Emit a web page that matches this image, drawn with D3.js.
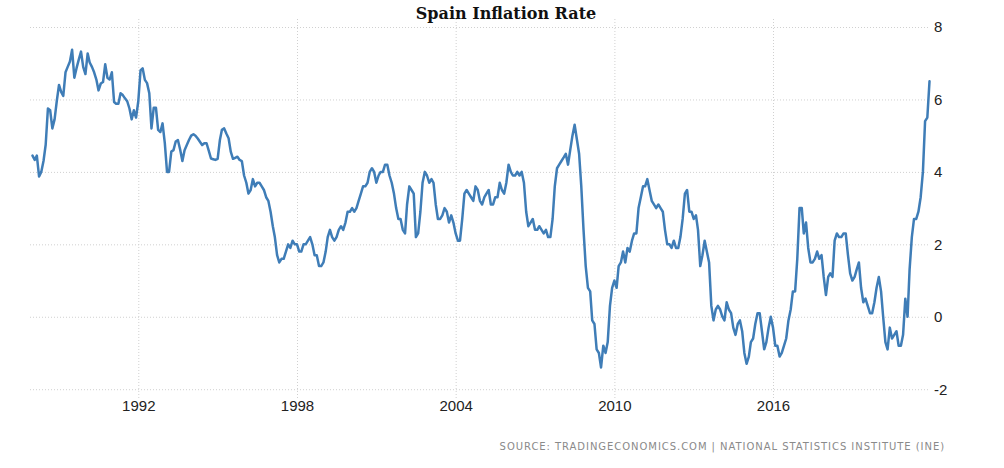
<!DOCTYPE html>
<html><head><meta charset="utf-8">
<script src="https://cdn.jsdelivr.net/npm/d3@7/dist/d3.min.js"></script>
<style>
body{margin:0;background:#fff;}
svg{display:block;}
</style>
</head><body>
<svg id="chart" width="1004" height="468"></svg>
<script>
// ---- data (annual % change, monthly, Jan..Dec) ----
const y1988 = [4.45, 4.33, 4.45, 3.87, 4.0, 4.3, 4.75, 5.75, 5.7, 5.2, 5.45, 5.95];
const y1989 = [6.4, 6.2, 6.1, 6.75, 6.9, 7.05, 7.37, 6.6, 6.87, 7.1, 7.32, 6.9];
const y1990 = [6.7, 7.27, 7.02, 6.9, 6.75, 6.55, 6.25, 6.44, 6.48, 6.97, 6.6, 6.55];
const y1991 = [6.75, 5.93, 5.88, 5.88, 6.17, 6.12, 6.03, 5.95, 5.75, 5.45, 5.7, 5.5];
const y1992 = [5.95, 6.8, 6.86, 6.54, 6.45, 6.17, 5.2, 5.77, 5.77, 5.16, 5.1, 5.34];
const y1993 = [4.8, 4.0, 4.0, 4.56, 4.6, 4.84, 4.88, 4.62, 4.3, 4.6, 4.74, 4.88];
const y1994 = [5.0, 5.04, 5.0, 4.92, 4.83, 4.74, 4.79, 4.79, 4.58, 4.37, 4.35, 4.33];
const y1995 = [4.36, 4.88, 5.16, 5.2, 5.06, 4.93, 4.56, 4.36, 4.39, 4.42, 4.33, 4.3];
const y1996 = [3.9, 3.7, 3.4, 3.5, 3.8, 3.6, 3.7, 3.7, 3.6, 3.5, 3.3, 3.2];
const y1997 = [2.9, 2.5, 2.2, 1.7, 1.5, 1.6, 1.6, 1.8, 2.0, 1.9, 2.1, 2.0];
const y1998 = [2.0, 1.8, 1.8, 2.0, 2.0, 2.1, 2.2, 2.0, 1.7, 1.7, 1.4, 1.4];
const y1999 = [1.5, 1.8, 2.2, 2.4, 2.2, 2.1, 2.2, 2.4, 2.5, 2.4, 2.6, 2.9];
const y2000 = [2.9, 3.0, 2.9, 3.0, 3.2, 3.4, 3.6, 3.6, 3.7, 4.0, 4.1, 4.0];
const y2001 = [3.7, 3.9, 4.0, 4.0, 4.2, 4.2, 3.9, 3.7, 3.4, 3.0, 2.7, 2.7];
const y2002 = [2.4, 2.3, 3.1, 3.6, 3.5, 3.4, 2.2, 2.3, 2.9, 3.7, 4.0, 3.9];
const y2003 = [3.7, 3.8, 3.7, 3.1, 2.7, 2.7, 2.8, 3.0, 2.9, 2.6, 2.8, 2.6];
const y2004 = [2.3, 2.1, 2.1, 2.7, 3.4, 3.5, 3.4, 3.3, 3.2, 3.6, 3.5, 3.2];
const y2005 = [3.1, 3.3, 3.4, 3.5, 3.1, 3.1, 3.3, 3.3, 3.7, 3.5, 3.4, 3.7];
const y2006 = [4.2, 4.0, 3.9, 3.9, 4.0, 3.9, 4.0, 3.7, 2.9, 2.5, 2.6, 2.7];
const y2007 = [2.4, 2.4, 2.5, 2.4, 2.3, 2.4, 2.2, 2.2, 2.7, 3.6, 4.1, 4.2];
const y2008 = [4.3, 4.4, 4.5, 4.2, 4.6, 5.0, 5.3, 4.9, 4.5, 3.6, 2.4, 1.4];
const y2009 = [0.8, 0.7, -0.1, -0.2, -0.9, -1.0, -1.4, -0.8, -1.0, -0.7, 0.3, 0.8];
const y2010 = [1.0, 0.8, 1.4, 1.5, 1.8, 1.5, 1.9, 1.8, 2.1, 2.3, 2.3, 3.0];
const y2011 = [3.3, 3.6, 3.6, 3.8, 3.5, 3.2, 3.1, 3.0, 3.1, 3.0, 2.9, 2.4];
const y2012 = [2.0, 2.0, 1.9, 2.1, 1.9, 1.9, 2.2, 2.7, 3.4, 3.5, 2.9, 2.9];
const y2013 = [2.7, 2.8, 2.4, 1.4, 1.7, 2.1, 1.8, 1.5, 0.3, -0.1, 0.2, 0.3];
const y2014 = [0.2, 0.0, -0.1, 0.4, 0.2, 0.1, -0.3, -0.5, -0.2, -0.1, -0.4, -1.0];
const y2015 = [-1.3, -1.1, -0.7, -0.6, -0.2, 0.1, 0.1, -0.4, -0.9, -0.7, -0.3, 0.0];
const y2016 = [-0.3, -0.8, -0.8, -1.1, -1.0, -0.8, -0.6, -0.1, 0.2, 0.7, 0.7, 1.6];
const y2017 = [3.0, 3.0, 2.3, 2.6, 1.9, 1.5, 1.5, 1.6, 1.8, 1.6, 1.7, 1.1];
const y2018 = [0.6, 1.1, 1.2, 1.1, 2.1, 2.3, 2.2, 2.2, 2.3, 2.3, 1.7, 1.2];
const y2019 = [1.0, 1.1, 1.3, 1.5, 0.8, 0.4, 0.5, 0.3, 0.1, 0.1, 0.4, 0.8];
const y2020 = [1.1, 0.7, 0.0, -0.7, -0.9, -0.3, -0.6, -0.5, -0.4, -0.8, -0.8, -0.5];
const y2021 = [0.5, 0.0, 1.3, 2.2, 2.7, 2.7, 2.9, 3.3, 4.0, 5.4, 5.5, 6.5];

const seriesYears = [1988,1989,1990,1991,1992,1993,1994,1995,1996,1997,1998,1999,2000,2001,2002,2003,2004,2005,2006,2007,2008,2009,2010,2011,2012,2013,2014,2015,2016,2017,2018,2019,2020,2021];
const seriesByYear = [y1988,y1989,y1990,y1991,y1992,y1993,y1994,y1995,y1996,y1997,y1998,y1999,y2000,y2001,y2002,y2003,y2004,y2005,y2006,y2007,y2008,y2009,y2010,y2011,y2012,y2013,y2014,y2015,y2016,y2017,y2018,y2019,y2020,y2021];

const xTickYears = [1992, 1998, 2004, 2010, 2016];
const yTickValues = [-2, 0, 2, 4, 6, 8];
const chartTitle = "Spain Inflation Rate";
const sourceText = "SOURCE: TRADINGECONOMICS.COM  |  NATIONAL STATISTICS INSTITUTE (INE)";

// ---- build points ----
const data = [];
seriesYears.forEach((yr, i) => {
  seriesByYear[i].forEach((v, m) => data.push({date: new Date(yr, m, 1), value: v}));
});

const svg = d3.select("#chart");
const W = 1004, H = 468;
svg.append("rect").attr("width", W).attr("height", H).attr("fill", "#fff");

const x = d3.scaleTime()
  .domain([new Date(1988, 0, 1), new Date(2021, 11, 1)])
  .range([32.5, 929.5]);
const y = d3.scaleLinear().domain([-2, 8]).range([389.2, 27]);

const gridColor = "#d0d0d0";
const labelFont = "'Liberation Sans','Arial',sans-serif";

// vertical grid
svg.append("g")
  .attr("transform", "translate(0,398)")
  .call(d3.axisBottom(x).tickValues(xTickYears.map(d => new Date(d, 0, 1))).tickSize(-380).tickFormat(""))
  .call(g => g.select(".domain").remove())
  .call(g => g.selectAll(".tick line").attr("stroke", gridColor).attr("stroke-dasharray", "1,2"));

// horizontal grid
svg.append("g")
  .attr("transform", "translate(30,0)")
  .call(d3.axisRight(y).tickValues(yTickValues).tickSize(900).tickFormat(""))
  .call(g => g.select(".domain").remove())
  .call(g => g.selectAll(".tick line").attr("stroke", gridColor).attr("stroke-dasharray", "1,2"));

// y labels (right)
svg.append("g")
  .attr("transform", "translate(934,0)")
  .call(d3.axisRight(y).tickValues(yTickValues).tickSize(0).tickPadding(0).tickFormat(d => String(d)))
  .call(g => g.select(".domain").remove())
  .call(g => g.selectAll("text")
    .attr("fill", "#222")
    .style("font-family", labelFont)
    .style("font-size", "15px"));

// x labels
svg.append("g")
  .attr("transform", "translate(0,397)")
  .call(d3.axisBottom(x).tickValues(xTickYears.map(d => new Date(d, 0, 1))).tickSize(0).tickPadding(3).tickFormat(d3.timeFormat("%Y")))
  .call(g => g.select(".domain").remove())
  .call(g => g.selectAll("text")
    .attr("fill", "#222")
    .style("font-family", labelFont)
    .style("font-size", "15px"));

// line
const line = d3.line().x(d => x(d.date)).y(d => y(d.value));
svg.append("path")
  .datum(data)
  .attr("d", line)
  .attr("fill", "none")
  .attr("stroke", "#3f7db7")
  .attr("stroke-width", 2.5)
  .attr("stroke-linejoin", "round")
  .attr("stroke-linecap", "round");

// title
svg.append("text")
  .attr("x", 506).attr("y", 19)
  .attr("text-anchor", "middle")
  .style("font-family", "'DejaVu Serif','Liberation Serif',serif")
  .style("font-weight", "bold")
  .style("font-size", "16px")
  .attr("fill", "#111")
  .text(chartTitle);

// source
svg.append("text")
  .attr("x", 945).attr("y", 450)
  .attr("text-anchor", "end")
  .style("font-family", "'DejaVu Sans',sans-serif")
  .style("font-size", "10px")
  .style("letter-spacing", "0.95px")
  .attr("fill", "#8a8a8a")
  .text(sourceText);
</script>
</body></html>
